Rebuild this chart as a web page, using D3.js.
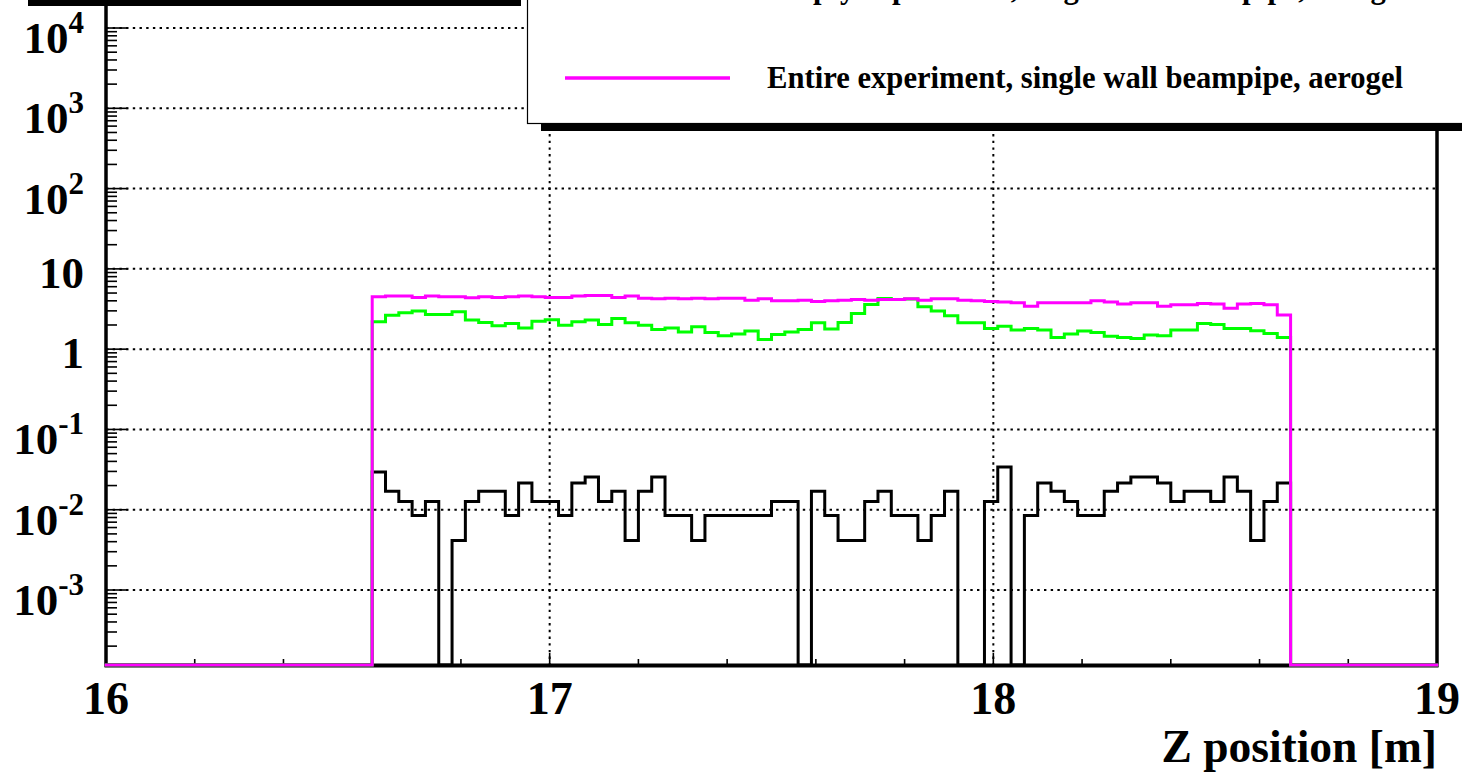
<!DOCTYPE html>
<html>
<head>
<meta charset="utf-8">
<script src="https://cdn.jsdelivr.net/npm/d3@7"></script>
<style>
  html, body { margin: 0; padding: 0; background: #fff; }
  svg { display: block; }
  text { font-family: "Liberation Serif", "Times New Roman", serif; font-weight: bold; fill: #000; }
</style>
</head>
<body>
<svg id="chart" width="1462" height="774"></svg>
<script>
// ---------------- data ----------------
const binStart = 16.6;      // low edge of first filled bin
const binWidth = 0.03;      // bin width [m]
const xDomain = [16, 19];
const xTickLabels = ["16", "17", "18", "19"];
const xTickValues = [16, 17, 18, 19];
const yTickExps = [-3, -2, -1, 0, 1, 2, 3, 4];
const yTickBase = ["10", "10", "10", "1", "10", "10", "10", "10"];
const yTickSup  = ["-3", "-2", "-1", "", "", "2", "3", "4"];
const yDomainExp = [-3.934, 4.349];

const seriesNames = [
  "Beampipe only",
  "Empty experiment, single wall beampipe, aerogel",
  "Entire experiment, single wall beampipe, aerogel"
];

const blackVals = [0.0295,0.017,0.0127,0.0085,0.0127,0,0.00415,0.0127,0.017,0.017,0.0085,0.0215,0.0127,0.0127,0.0085,0.0215,0.0256,0.0127,0.017,0.00415,0.017,0.0256,0.0085,0.0085,0.00415,0.0085,0.0085,0.0085,0.0085,0.0085,0.0127,0.0127,0,0.017,0.0085,
  0.00415,0.00415,0.0127,0.017,0.0085,0.0085,0.00415,0.0085,0.017,0,0,0.0127,0.0341,0,0.0085,0.0215,0.017,0.0127,0.0085,0.0085,0.017,0.0215,0.0256,0.0256,0.0215,0.0127,0.017,0.017,0.0127,0.0256,0.017,0.00415,0.0127,0.0215];

const greenVals = [2.19,2.65,2.84,2.98,2.71,2.71,2.92,2.30,2.15,1.95,2.09,1.84,2.23,2.32,1.99,2.19,2.30,2.03,2.41,2.13,1.99,1.76,1.84,1.64,1.90,1.61,1.47,1.55,1.68,1.32,1.52,1.64,1.76,2.13,
  1.78,2.15,2.79,3.61,4.28,4.16,4.2,3.37,2.98,2.60,2.13,2.13,1.81,1.93,1.73,1.81,1.73,1.40,1.54,1.68,1.61,1.45,1.40,1.36,1.50,1.47,1.73,1.73,2.09,2.03,1.81,1.81,1.70,1.57,1.40];

const pinkVals = [4.49,4.58,4.58,4.41,4.58,4.49,4.49,4.37,4.49,4.41,4.49,4.58,4.49,4.41,4.41,4.58,4.67,4.67,4.41,4.58,4.32,4.24,4.32,4.24,4.32,4.24,4.32,4.32,4.08,4.24,4.0,4.0,4.08,3.93,
  4.0,4.08,4.16,4.08,4.16,4.16,4.24,4.08,4.24,4.24,4.08,4.0,3.93,3.86,3.78,3.43,3.78,3.78,3.78,3.78,4.0,3.86,3.64,3.78,3.78,3.43,3.57,3.57,3.71,3.64,3.24,3.64,3.71,3.57,2.67];

// ---------------- layout ----------------
const W = 1462, H = 774;
const fL = 106, fR = 1437, fT = 0, fB = 665;
const svg = d3.select("#chart");

const x = d3.scaleLinear().domain(xDomain).range([fL, fR]);
const y = d3.scaleLog().domain([Math.pow(10, yDomainExp[0]), Math.pow(10, yDomainExp[1])]).range([fB, fT]);

// full binning across the axis range
const nBins = Math.round((xDomain[1] - xDomain[0]) / binWidth);
const firstBin = Math.round((binStart - xDomain[0]) / binWidth);
function fullBins(vals) {
  const arr = new Array(nBins).fill(0);
  vals.forEach((v, i) => { arr[firstBin + i] = v; });
  return arr;
}
function yPos(v) { return v > 0 ? y(v) : fB; }
function histPath(vals) {
  const arr = fullBins(vals);
  let d = "";
  arr.forEach((v, i) => {
    const x0 = x(xDomain[0] + i * binWidth), x1 = x(xDomain[0] + (i + 1) * binWidth);
    const yy = yPos(v);
    d += (i === 0 ? "M" : "L") + x0 + "," + yy + "L" + x1 + "," + yy;
  });
  return d;
}

// ---------------- grid ----------------
const grid = svg.append("g");
yTickExps.forEach(e => {
  grid.append("line").attr("x1", fL).attr("x2", fR)
    .attr("y1", y(Math.pow(10, e))).attr("y2", y(Math.pow(10, e)))
    .attr("stroke", "#000").attr("stroke-width", 2).attr("stroke-dasharray", "2.4,4.3");
});
[17, 18].forEach(v => {
  grid.append("line").attr("x1", x(v)).attr("x2", x(v))
    .attr("y1", fT).attr("y2", fB)
    .attr("stroke", "#000").attr("stroke-width", 2).attr("stroke-dasharray", "2.4,4.3");
});

// ---------------- frame & ticks ----------------
const frame = svg.append("g");
for (let e = Math.floor(yDomainExp[0]); e <= Math.ceil(yDomainExp[1]); e++) {
  for (let k = 1; k <= 9; k++) {
    const v = k * Math.pow(10, e);
    if (Math.log10(v) < yDomainExp[0] || Math.log10(v) > yDomainExp[1]) continue;
    const len = k === 1 ? 22 : 11;
    frame.append("line").attr("x1", fL).attr("x2", fL + len)
      .attr("y1", y(v)).attr("y2", y(v)).attr("stroke", "#000").attr("stroke-width", 1.6);
  }
}
for (let i = 0; i <= 15; i++) {
  const v = xDomain[0] + i * 0.2;
  const major = (i % 5 === 0);
  frame.append("line").attr("x1", x(v)).attr("x2", x(v))
    .attr("y1", fB).attr("y2", fB - (major ? 12 : 6)).attr("stroke", "#000").attr("stroke-width", 1.6);
}
frame.append("line").attr("x1", fL).attr("x2", fL).attr("y1", fT).attr("y2", fB + 1.5)
  .attr("stroke", "#000").attr("stroke-width", 3.5);
frame.append("line").attr("x1", fR).attr("x2", fR).attr("y1", fT).attr("y2", fB + 1.5)
  .attr("stroke", "#000").attr("stroke-width", 3.5);
frame.append("line").attr("x1", fL - 1.5).attr("x2", fR + 1.5).attr("y1", fB + 0.5).attr("y2", fB + 0.5)
  .attr("stroke", "#000").attr("stroke-width", 4);

// ---------------- histograms ----------------
const hg = svg.append("g").attr("fill", "none").attr("stroke-linejoin", "miter").attr("stroke-linecap", "square");
hg.append("path").attr("d", histPath(blackVals)).attr("stroke", "#000000").attr("stroke-width", 3).attr("fill", "none");
hg.append("path").attr("d", histPath(greenVals)).attr("stroke", "#00ff00").attr("stroke-width", 3).attr("fill", "none");
hg.append("path").attr("d", histPath(pinkVals)).attr("stroke", "#ff00ff").attr("stroke-width", 3).attr("fill", "none");

// ---------------- axis labels ----------------
const lab = svg.append("g");
yTickExps.forEach((e, i) => {
  const ty = y(Math.pow(10, e));
  const hasSup = yTickSup[i] !== "";
  const t = lab.append("text").attr("x", 84).attr("y", ty + (hasSup ? 25 : 19))
    .attr("text-anchor", "end").style("font-size", "45px");
  t.append("tspan").text(yTickBase[i]);
  if (hasSup) t.append("tspan").attr("dy", -20).style("font-size", "31px").text(yTickSup[i]);
});
xTickValues.forEach((v, i) => {
  lab.append("text").attr("x", x(v)).attr("y", 714).attr("text-anchor", "middle")
    .style("font-size", "46px").text(xTickLabels[i]);
});
lab.append("text").attr("x", fR).attr("y", 762).attr("text-anchor", "end")
  .style("font-size", "45.5px").text("Z position [m]");

// ---------------- top-left shadow bar ----------------
svg.append("rect").attr("x", 28).attr("y", 0).attr("width", 493).attr("height", 6).attr("fill", "#000");

// ---------------- legend ----------------
const leg = svg.append("g");
leg.append("rect").attr("x", 541).attr("y", 123).attr("width", W - 541).attr("height", 8).attr("fill", "#000");
leg.append("rect").attr("x", 527.5).attr("y", -300).attr("width", 1000).attr("height", 423.5)
  .attr("fill", "#fff").attr("stroke", "#000").attr("stroke-width", 1.2);
const legColors = ["#000000", "#00ff00", "#ff00ff"];
const legY = [-102, -12, 78];
seriesNames.forEach((name, i) => {
  leg.append("line").attr("x1", 565).attr("x2", 730).attr("y1", legY[i]).attr("y2", legY[i])
    .attr("stroke", legColors[i]).attr("stroke-width", 3.5);
  leg.append("text").attr("x", 767).attr("y", legY[i] + 10).style("font-size", "32px")
    .attr("textLength", i === 2 ? 636 : 641).attr("lengthAdjust", "spacingAndGlyphs").text(name);
});
</script>
</body>
</html>
